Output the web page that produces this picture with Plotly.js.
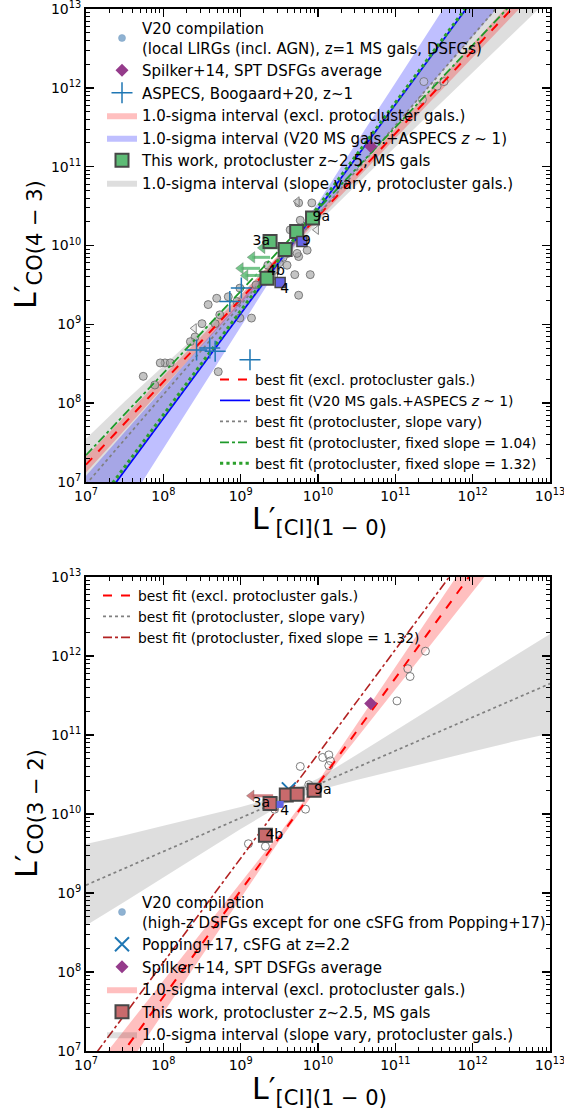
<!DOCTYPE html>
<html>
<head>
<meta charset="utf-8">
<script src="https://cdn.plot.ly/plotly-3.0.1.min.js"></script>
<style>html,body{margin:0;padding:0;background:#fff;}#chart{width:564px;height:1112px;}</style>
</head>
<body>
<div id="chart"></div>
<script>
// ---------------- DATA ----------------
// grid in log10 L' used for the 1-sigma bands (values in log10)
const bandLogX = [7, 7.5, 8, 8.5, 9, 9.5, 10, 10.5, 11, 11.5, 12, 12.5, 13];

// TOP PANEL (CO(4-3) vs [CI](1-0))
const topRedBandHi  = [7.32, 7.83, 8.34, 8.855, 9.37, 9.89, 10.41, 10.945, 11.48, 12.015, 12.55, 13.09, 13.63];
const topRedBandLo  = [7.12, 7.66, 8.20, 8.735, 9.27, 9.80, 10.33, 10.845, 11.36, 11.875, 12.39, 12.90, 13.41];
const topBlueBandHi = [7.08, 7.63, 8.19, 8.74, 9.30, 9.87, 10.54, 11.31, 12.06, 12.81, 13.58, 14.34, 15.10];
const topBlueBandLo = [5.88, 6.66, 7.43, 8.21, 8.97, 9.74, 10.39, 10.95, 11.52, 12.09, 12.66, 13.22, 13.78];
const topGrayBandHi = [7.55, 8.02, 8.47, 8.92, 9.38, 9.88, 10.48, 11.13, 11.79, 12.45, 13.12, 13.78, 14.44];
const topGrayBandLo = [6.48, 7.14, 7.79, 8.46, 9.12, 9.75, 10.29, 10.77, 11.25, 11.73, 12.20, 12.67, 13.14];

// best-fit lines: log10 values at log10 x = 7 and 13
const lineLogX = [7, 13];
const topFitExcl    = [7.22, 13.52];
const topFitV20MS   = [6.48, 14.44];
const topFitVary    = [6.97, 13.80];
const topFitSlope104 = [7.34, 13.58];
const topFitSlope132 = [6.53, 14.45];

const v20TopX = [5.62e9, 8.32e9, 5.89e9, 4.37e9, 7.24e9, 5.62e9, 7.94e9, 5.01e9, 5.62e9, 1.38e9, 9.77e8, 8.91e8, 6.92e8, 4.9e8, 3.8e8, 5.37e8, 4.68e8, 3.16e8, 2.57e8, 2.24e8, 1.05e8, 9.12e7, 1.23e8, 5.5e7, 5.13e8, 7.76e7, 9.77e8, 4.07e9, 5.37e9, 2.82e9, 3.16e9, 2.51e9, 3.55e9, 2.0e9, 3.98e9, 1.58e9, 2.24e9];
const v20TopY = [3.47e10, 3.47e10, 2.09e10, 1.58e10, 8.71e9, 7.24e9, 4.27e9, 4.27e9, 2.34e9, 1.2e9, 1.2e9, 1.95e9, 2.24e9, 2.14e9, 1.78e9, 1.32e9, 1.02e9, 1.02e9, 6.92e8, 6.03e8, 3.24e8, 3.24e8, 3.24e8, 2.19e8, 2.51e8, 1.7e8, 2.88e9, 7.94e9, 7.94e9, 5.01e9, 6.03e9, 4.17e9, 7.08e9, 3.55e9, 5.62e9, 3.16e9, 5.62e9];
const v20TopOpenX = [2.34e11, 2.24e11, 3.47e11, 4.27e11];
const v20TopOpenY = [1.2e12, 7.08e11, 1.05e12, 1.2e12];
const v20TopLimX = [5.37e9, 9.55e9, 2.51e8, 2.82e9];
const v20TopLimY = [3.63e10, 1.58e10, 8.91e8, 3.98e9];
const aspecsX = [2.69e8, 3.98e8, 4.68e8, 1.32e9, 7.24e8, 1.02e9];
const aspecsY = [4.73e8, 5.01e8, 4.57e8, 3.55e8, 1.95e9, 2.88e9];
const spilkerTopX = [4.8e10];
const spilkerTopY = [1.8e11];
const thisWorkTopX = [2.4e9, 8.5e9, 5.3e9, 3.76e9, 2.19e9];
const thisWorkTopY = [1.12e10, 2.24e10, 1.5e10, 8.9e9, 3.85e9];
const thisWorkTopLabels = ["3a", "9a", "", "", "4b"];
const blueTopX = [6.2e9, 3.24e9];
const blueTopY = [1.12e10, 3.4e9];
const blueTopLabels = ["9", "4"];
const limTopY = [7.08e9, 5.13e9, 9.33e9, 4.17e9];
const limTopFromX = [2.4e9, 1.78e9, 3.16e9, 2.0e9];
const limTopToX = [1.41e9, 1.0e9, 1.91e9, 1.15e9];

// BOTTOM PANEL (CO(3-2) vs [CI](1-0))
const botRedBandHi  = [6.65, 7.27, 7.89, 8.50, 9.12, 9.75, 10.41, 11.13, 11.85, 12.58, 13.31, 14.03, 14.76];
const botRedBandLo  = [6.03, 6.76, 7.49, 8.21, 8.94, 9.66, 10.34, 10.96, 11.58, 12.20, 12.82, 13.43, 14.05];
const botGrayBandHi = [9.62, 9.73, 9.85, 9.97, 10.09, 10.22, 10.45, 10.75, 11.05, 11.36, 11.67, 11.97, 12.28];
const botGrayBandLo = [8.59, 8.89, 9.20, 9.50, 9.81, 10.10, 10.30, 10.43, 10.55, 10.67, 10.79, 10.91, 11.02];
const botFitExcl     = [6.34, 14.41];
const botFitVary     = [9.10, 11.65];
const botFitSlope132 = [6.80, 14.72];

const v20BotX = [2.45e11, 1.45e11, 1.55e11, 1.05e11, 5.9e9, 1.15e10, 1.38e10, 1.45e10, 1.38e10, 7.6e9, 6.9e9, 2.75e9, 1.26e9, 2.09e9];
const v20BotY = [1.15e12, 6.9e11, 5.5e11, 2.7e11, 4.0e10, 5.2e10, 5.6e10, 4.7e10, 4.1e10, 2.35e10, 1.15e10, 1.15e10, 4.2e9, 3.9e9];
const poppingX = [4.2e9];
const poppingY = [2.05e10];
const spilkerBotX = [4.8e10];
const spilkerBotY = [2.5e11];
const thisWorkBotX = [2.4e9, 3.89e9, 5.37e9, 8.91e9, 2.09e9];
const thisWorkBotY = [1.36e10, 1.74e10, 1.78e10, 2.0e10, 5.37e9];
const thisWorkBotLabels = ["3a", "", "", "9a", "4b"];
const blueBotX = [3.24e9];
const blueBotY = [1.32e10];
const blueBotLabels = ["4"];
const limBotY = [1.7e10];
const limBotFromX = [2.63e9];
const limBotToX = [1.38e9];

const tickVals = [1e7, 1e8, 1e9, 1e10, 1e11, 1e12, 1e13];
const tickText = ['10<sup>7</sup>', '10<sup>8</sup>', '10<sup>9</sup>', '10<sup>10</sup>', '10<sup>11</sup>', '10<sup>12</sup>', '10<sup>13</sup>'];

// ---------------- BUILD ----------------
const FONT = 'DejaVu Sans';
const pow10 = a => a.map(v => Math.pow(10, v));
const bandXs = pow10(bandLogX).concat(pow10(bandLogX).slice().reverse());
function band(hi, lo, color, name, xa, ya, legend, rank) {
  return {x: bandXs, y: pow10(hi).concat(pow10(lo).slice().reverse()), xaxis: xa, yaxis: ya,
    type: 'scatter', mode: 'lines', fill: 'toself', fillcolor: color, line: {width: 0, color: color},
    name: name, legend: legend, legendrank: rank, showlegend: !!name, hoverinfo: 'skip'};
}
function fitLine(vals, color, dash, width, name, xa, ya, legend, rank) {
  return {x: pow10(lineLogX), y: pow10(vals), xaxis: xa, yaxis: ya, type: 'scatter', mode: 'lines',
    line: {color: color, dash: dash, width: width}, name: name, legend: legend, legendrank: rank};
}
function arrows(fromX, toX, ys, color, xa, ya) {
  const lx = [], ly = [];
  for (let i = 0; i < ys.length; i++) { lx.push(fromX[i], toX[i], null); ly.push(ys[i], ys[i], null); }
  return [
    {x: lx, y: ly, xaxis: xa, yaxis: ya, type: 'scatter', mode: 'lines', line: {color: color, width: 3}, showlegend: false},
    {x: toX, y: ys, xaxis: xa, yaxis: ya, type: 'scatter', mode: 'markers', showlegend: false,
     marker: {symbol: 'triangle-left', size: 10, color: color, line: {color: 'rgba(80,80,80,0.6)', width: 0.5}}}
  ];
}
function labels(xs, ys, txt, pos, xa, ya) {
  return {x: xs, y: ys, text: txt, textposition: pos, mode: 'text', type: 'scatter', xaxis: xa, yaxis: ya,
    textfont: {family: FONT, size: 14, color: 'black'}, showlegend: false, hoverinfo: 'skip'};
}

const greenSq = '#5dbb75', redSq = '#c96a6c', blueSq = '#6464e6', purple = '#953b8b', aspBlue = '#1f77b4';

const traces = [
  // ----- top panel -----
  band(topGrayBandHi, topGrayBandLo, 'rgba(0,0,0,0.13)', '1.0-sigma interval (slope vary, protocluster gals.)', 'x', 'y', 'legend', 7),
  band(topBlueBandHi, topBlueBandLo, 'rgba(0,0,255,0.25)', '1.0-sigma interval (V20 MS gals.+ASPECS <i>z</i> ~ 1)', 'x', 'y', 'legend', 5),
  band(topRedBandHi, topRedBandLo, 'rgba(255,0,0,0.25)', '1.0-sigma interval (excl. protocluster gals.)', 'x', 'y', 'legend', 4),
  {x: v20TopX, y: v20TopY, xaxis: 'x', yaxis: 'y', type: 'scatter', mode: 'markers', showlegend: false,
   marker: {symbol: 'circle', size: 8, color: 'rgba(165,165,165,0.65)', line: {color: 'rgba(100,100,100,0.8)', width: 1}}},
  {x: v20TopOpenX, y: v20TopOpenY, xaxis: 'x', yaxis: 'y', type: 'scatter', mode: 'markers', showlegend: false,
   marker: {symbol: 'circle', size: 8, color: 'rgba(220,220,220,0.4)', line: {color: 'rgba(110,110,110,0.8)', width: 1}}},
  {x: v20TopLimX, y: v20TopLimY, xaxis: 'x', yaxis: 'y', type: 'scatter', mode: 'markers', showlegend: false,
   marker: {symbol: 'triangle-left', size: 8, color: 'rgba(220,220,220,0.5)', line: {color: 'rgba(110,110,110,0.8)', width: 1}}},
  {x: [null], y: [null], xaxis: 'x', yaxis: 'y', type: 'scatter', mode: 'markers', legend: 'legend', legendrank: 1,
   name: 'V20 compilation<br>(local LIRGs (incl. AGN), z=1 MS gals, DSFGs)',
   marker: {symbol: 'circle', size: 7, color: '#8fb2d2', line: {color: '#7aa0c2', width: 0.5}}},
  fitLine(topFitExcl, 'red', 'dash', 2, 'best fit (excl. protocluster gals.)', 'x', 'y', 'legend2', 1),
  fitLine(topFitV20MS, 'blue', 'solid', 1.7, 'best fit (V20 MS gals.+ASPECS <i>z</i> ~ 1)', 'x', 'y', 'legend2', 2),
  fitLine(topFitVary, 'gray', 'dot', 1.7, 'best fit (protocluster, slope vary)', 'x', 'y', 'legend2', 3),
  fitLine(topFitSlope104, '#1f9a2a', 'dashdot', 1.8, 'best fit (protocluster, fixed slope = 1.04)', 'x', 'y', 'legend2', 4),
  fitLine(topFitSlope132, '#2ca02c', 'dot', 3.2, 'best fit (protocluster, fixed slope = 1.32)', 'x', 'y', 'legend2', 5),
  {x: aspecsX, y: aspecsY, xaxis: 'x', yaxis: 'y', type: 'scatter', mode: 'markers', name: 'ASPECS, Boogaard+20, z~1',
   legend: 'legend', legendrank: 3, marker: {symbol: 'cross-thin', size: 15, color: aspBlue, line: {color: aspBlue, width: 1.5}}},
  {x: spilkerTopX, y: spilkerTopY, xaxis: 'x', yaxis: 'y', type: 'scatter', mode: 'markers', name: 'Spilker+14, SPT DSFGs average',
   legend: 'legend', legendrank: 2, marker: {symbol: 'diamond', size: 10, color: purple}},
  ...arrows(limTopFromX, limTopToX, limTopY, 'rgba(93,187,117,0.85)', 'x', 'y'),
  {x: thisWorkTopX, y: thisWorkTopY, xaxis: 'x', yaxis: 'y', type: 'scatter', mode: 'markers', name: 'This work, protocluster z~2.5, MS gals',
   legend: 'legend', legendrank: 6, marker: {symbol: 'square', size: 13, color: greenSq, line: {color: '#474747', width: 2}}},
  {x: blueTopX, y: blueTopY, xaxis: 'x', yaxis: 'y', type: 'scatter', mode: 'markers', showlegend: false,
   marker: {symbol: 'square', size: 10, color: blueSq, line: {color: '#474747', width: 1.5}}},
  labels(thisWorkTopX, thisWorkTopY, thisWorkTopLabels, ['middle left', 'middle right', 'middle right', 'middle right', 'top right'], 'x', 'y'),
  labels(blueTopX, blueTopY, blueTopLabels, ['middle right', 'bottom right'], 'x', 'y'),

  // ----- bottom panel -----
  band(botGrayBandHi, botGrayBandLo, 'rgba(0,0,0,0.13)', '1.0-sigma interval (slope vary, protocluster gals.)', 'x2', 'y2', 'legend4', 7),
  band(botRedBandHi, botRedBandLo, 'rgba(255,0,0,0.25)', '1.0-sigma interval (excl. protocluster gals.)', 'x2', 'y2', 'legend4', 5),
  {x: v20BotX, y: v20BotY, xaxis: 'x2', yaxis: 'y2', type: 'scatter', mode: 'markers', showlegend: false,
   marker: {symbol: 'circle', size: 8, color: 'rgba(255,255,255,0.3)', line: {color: 'rgba(110,110,110,0.9)', width: 1}}},
  {x: [null], y: [null], xaxis: 'x2', yaxis: 'y2', type: 'scatter', mode: 'markers', legend: 'legend4', legendrank: 1,
   name: 'V20 compilation<br>(high-z DSFGs except for one cSFG from Popping+17)',
   marker: {symbol: 'circle', size: 7, color: '#8fb2d2', line: {color: '#7aa0c2', width: 0.5}}},
  fitLine(botFitExcl, 'red', 'dash', 2, 'best fit (excl. protocluster gals.)', 'x2', 'y2', 'legend3', 1),
  fitLine(botFitVary, 'gray', 'dot', 1.7, 'best fit (protocluster, slope vary)', 'x2', 'y2', 'legend3', 2),
  fitLine(botFitSlope132, '#b22222', 'dashdot', 1.6, 'best fit (protocluster, fixed slope = 1.32)', 'x2', 'y2', 'legend3', 3),
  {x: poppingX, y: poppingY, xaxis: 'x2', yaxis: 'y2', type: 'scatter', mode: 'markers', name: 'Popping+17, cSFG at z=2.2',
   legend: 'legend4', legendrank: 2, marker: {symbol: 'x-thin', size: 14, color: aspBlue, line: {color: aspBlue, width: 2}}},
  {x: spilkerBotX, y: spilkerBotY, xaxis: 'x2', yaxis: 'y2', type: 'scatter', mode: 'markers', name: 'Spilker+14, SPT DSFGs average',
   legend: 'legend4', legendrank: 3, marker: {symbol: 'diamond', size: 10, color: purple}},
  ...arrows(limBotFromX, limBotToX, limBotY, 'rgba(201,106,108,0.85)', 'x2', 'y2'),
  {x: thisWorkBotX, y: thisWorkBotY, xaxis: 'x2', yaxis: 'y2', type: 'scatter', mode: 'markers', name: 'This work, protocluster z~2.5, MS gals',
   legend: 'legend4', legendrank: 6, marker: {symbol: 'square', size: 13, color: redSq, line: {color: '#474747', width: 2}}},
  {x: blueBotX, y: blueBotY, xaxis: 'x2', yaxis: 'y2', type: 'scatter', mode: 'markers', showlegend: false,
   marker: {symbol: 'square', size: 7, color: blueSq}},
  labels(thisWorkBotX, thisWorkBotY, thisWorkBotLabels, ['middle left', 'middle right', 'middle right', 'middle right', 'middle right'], 'x2', 'y2'),
  labels(blueBotX, blueBotY, blueBotLabels, ['bottom right'], 'x2', 'y2')
];

function axis(domain, anchor) {
  return {domain: domain, anchor: anchor, type: 'log', range: [7, 13], tickvals: tickVals, ticktext: tickText,
    ticklabeloverflow: 'allow',
    ticks: 'inside', ticklen: 8, tickwidth: 1.5, tickcolor: 'black', mirror: 'allticks', showline: true,
    linewidth: 2, linecolor: 'black', showgrid: false, zeroline: false,
    minor: {ticks: 'inside', ticklen: 4, tickwidth: 1, tickcolor: 'black', dtick: 'D1', showgrid: false},
    tickfont: {family: FONT, size: 14, color: 'black'}};
}
const XD = [86 / 564, 550 / 564];
const legendBase = {bgcolor: 'rgba(0,0,0,0)', borderwidth: 0, xanchor: 'left', yanchor: 'top', traceorder: 'normal'};

const layout = {
  width: 564, height: 1112, margin: {l: 0, r: 0, t: 0, b: 0},
  paper_bgcolor: 'white', plot_bgcolor: 'white',
  font: {family: FONT, color: 'black'},
  xaxis: axis(XD, 'y'),
  yaxis: axis([1 - 482 / 1112, 1 - 9 / 1112], 'x'),
  xaxis2: axis(XD, 'y2'),
  yaxis2: axis([1 - 1051 / 1112, 1 - 577 / 1112], 'x2'),
  legend: Object.assign({}, legendBase, {x: 102 / 564, y: 1 - 12 / 1112, font: {family: FONT, size: 15, color: 'black'}}),
  legend2: Object.assign({}, legendBase, {x: 215 / 564, y: 1 - 364 / 1112, font: {family: FONT, size: 13.8, color: 'black'}}),
  legend3: Object.assign({}, legendBase, {x: 98 / 564, y: 1 - 580 / 1112, font: {family: FONT, size: 13.8, color: 'black'}}),
  legend4: Object.assign({}, legendBase, {x: 102 / 564, y: 1 - 886 / 1112, font: {family: FONT, size: 15, color: 'black'}}),
  showlegend: true,
  annotations: [
    {text: 'L′<sub>CO(4 − 3)</sub>', xref: 'paper', yref: 'paper', x: 28 / 564, y: 1 - 245 / 1112, textangle: -90,
     showarrow: false, xanchor: 'center', yanchor: 'middle', font: {family: FONT, size: 30, color: 'black'}},
    {text: 'L′<sub>[CI](1 − 0)</sub>', xref: 'paper', yref: 'paper', x: 319 / 564, y: 1 - 520 / 1112,
     showarrow: false, xanchor: 'center', yanchor: 'middle', font: {family: FONT, size: 30, color: 'black'}},
    {text: 'L′<sub>CO(3 − 2)</sub>', xref: 'paper', yref: 'paper', x: 28 / 564, y: 1 - 814 / 1112, textangle: -90,
     showarrow: false, xanchor: 'center', yanchor: 'middle', font: {family: FONT, size: 30, color: 'black'}},
    {text: 'L′<sub>[CI](1 − 0)</sub>', xref: 'paper', yref: 'paper', x: 319 / 564, y: 1 - 1090 / 1112,
     showarrow: false, xanchor: 'center', yanchor: 'middle', font: {family: FONT, size: 30, color: 'black'}}
  ]
};

Plotly.newPlot('chart', traces, layout, {staticPlot: true, displayModeBar: false});
</script>
</body>
</html>
